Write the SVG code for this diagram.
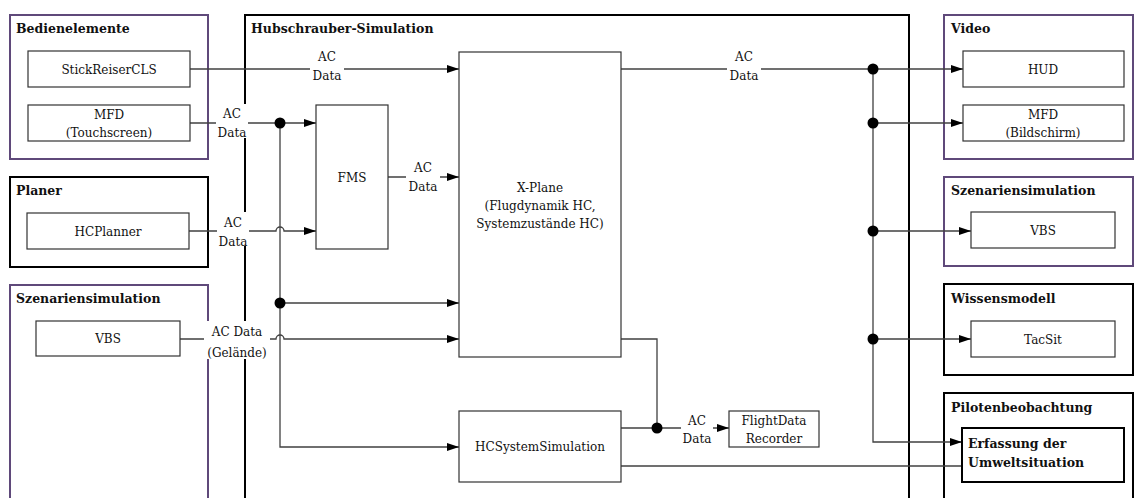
<svg xmlns="http://www.w3.org/2000/svg" width="1134" height="498" viewBox="0 0 1134 498">
<style>
text{font-family:"DejaVu Serif","Liberation Serif",serif;font-size:12px;fill:#111}
.t{font-weight:bold;font-size:12.5px}
.c{text-anchor:middle}
.purple{fill:#fff;stroke:#5f497a;stroke-width:2}
.black{fill:#fff;stroke:#000;stroke-width:2}
.box{fill:#fff;stroke:#333;stroke-width:1.2}
.bbox{fill:#fff;stroke:#000;stroke-width:2}
.ln{fill:none;stroke:#404040;stroke-width:1.3}
.dot{fill:#000}
.lbl{fill:#fff;stroke:none}
</style>
<defs>
<marker id="ah" markerWidth="12" markerHeight="8" refX="12" refY="4" orient="auto" markerUnits="userSpaceOnUse">
<path d="M0,0 L12,4 L0,8 Z" fill="#000"/>
</marker>
</defs>
<rect width="1134" height="498" fill="#fff"/>

<g id="grp-hubschrauber">
<rect class="black" x="245" y="15" width="664" height="500"/>
<text class="t" x="251" y="33">Hubschrauber-Simulation</text>
</g>
<g id="grp-bedienelemente">
<rect class="purple" x="10" y="15" width="198" height="144"/>
<text class="t" x="16" y="33">Bedienelemente</text>
</g>
<g id="grp-planer">
<rect class="black" x="10" y="177" width="198" height="90"/>
<text class="t" x="16" y="195">Planer</text>
</g>
<g id="grp-szen-left">
<rect class="purple" x="10" y="285" width="198" height="230"/>
<text class="t" x="16" y="303">Szenariensimulation</text>
</g>
<g id="grp-video">
<rect class="purple" x="944" y="15" width="189" height="144"/>
<text class="t" x="951" y="33">Video</text>
</g>
<g id="grp-szen-right">
<rect class="purple" x="944" y="177" width="189" height="89"/>
<text class="t" x="951" y="195">Szenariensimulation</text>
</g>
<g id="grp-wissensmodell">
<rect class="black" x="944" y="284" width="189" height="91"/>
<text class="t" x="951" y="303">Wissensmodell</text>
</g>
<g id="grp-pilotenbeobachtung">
<rect class="black" x="944" y="393" width="189" height="120"/>
<text class="t" x="951" y="412">Pilotenbeobachtung</text>
</g>

<g id="connectors">
<path class="ln" d="M190,69 H459" marker-end="url(#ah)"/>
<path class="ln" d="M190,123 H316" marker-end="url(#ah)"/>
<path class="ln" d="M189,231 H276 a4,4 0 0 1 8,0 H316" marker-end="url(#ah)"/>
<path class="ln" d="M280,123 V447 H459" marker-end="url(#ah)"/>
<path class="ln" d="M280,303 H459" marker-end="url(#ah)"/>
<path class="ln" d="M180,339 H276 a4,4 0 0 1 8,0 H459" marker-end="url(#ah)"/>
<path class="ln" d="M388,177 H459" marker-end="url(#ah)"/>
<path class="ln" d="M621,69 H963" marker-end="url(#ah)"/>
<path class="ln" d="M873,69 V442 H962" marker-end="url(#ah)"/>
<path class="ln" d="M873,123 H963" marker-end="url(#ah)"/>
<path class="ln" d="M873,231 H971" marker-end="url(#ah)"/>
<path class="ln" d="M873,339 H971" marker-end="url(#ah)"/>
<path class="ln" d="M621,339 H657 V428"/>
<path class="ln" d="M621,428 H729" marker-end="url(#ah)"/>
<path class="ln" d="M621,466 H962"/>
<circle class="dot" cx="280" cy="123" r="5.5"/>
<circle class="dot" cx="280" cy="303" r="5.5"/>
<circle class="dot" cx="873" cy="69" r="5.5"/>
<circle class="dot" cx="873" cy="123" r="5.5"/>
<circle class="dot" cx="873" cy="231" r="5.5"/>
<circle class="dot" cx="873" cy="339" r="5.5"/>
<circle class="dot" cx="657" cy="428" r="5.5"/>
<rect class="lbl" x="310" y="47" width="34" height="36"/>
<text class="c" x="327" y="61">AC</text><text class="c" x="327" y="80">Data</text>
<rect class="lbl" x="727" y="47" width="34" height="36"/>
<text class="c" x="744" y="61">AC</text><text class="c" x="744" y="80">Data</text>
<rect class="lbl" x="406" y="160" width="34" height="34"/>
<text class="c" x="423" y="172">AC</text><text class="c" x="423" y="191">Data</text>
<rect class="lbl" x="216" y="104" width="32" height="34"/>
<text class="c" x="232" y="118">AC</text><text class="c" x="232" y="137">Data</text>
<rect class="lbl" x="217" y="212" width="32" height="34"/>
<text class="c" x="233" y="227">AC</text><text class="c" x="233" y="246">Data</text>
<rect class="lbl" x="204" y="321" width="66" height="38"/>
<text class="c" x="237" y="336">AC Data</text><text class="c" x="237" y="357">(Gelände)</text>
<rect class="lbl" x="681" y="410" width="32" height="34"/>
<text class="c" x="697" y="425">AC</text><text class="c" x="697" y="443">Data</text>
</g>

<g id="stickreiser"><rect class="box" x="28" y="51" width="162" height="36"/><text class="c" x="109" y="74">StickReiserCLS</text></g>
<g id="mfd-touch"><rect class="box" x="28" y="105" width="162" height="36"/><text class="c" x="109" y="119">MFD</text><text class="c" x="109" y="137">(Touchscreen)</text></g>
<g id="hcplanner"><rect class="box" x="27" y="213" width="162" height="36"/><text class="c" x="108" y="236">HCPlanner</text></g>
<g id="vbs-left"><rect class="box" x="36" y="321" width="144" height="35"/><text class="c" x="108" y="343">VBS</text></g>
<g id="fms"><rect class="box" x="316" y="105" width="72" height="144"/><text class="c" x="352" y="182">FMS</text></g>
<g id="xplane"><rect class="box" x="459" y="52" width="162" height="305"/><text class="c" x="540" y="192">X-Plane</text><text class="c" x="540" y="210">(Flugdynamik HC,</text><text class="c" x="540" y="228">Systemzustände HC)</text></g>
<g id="hcsys"><rect class="box" x="459" y="411" width="162" height="71"/><text class="c" x="540" y="451">HCSystemSimulation</text></g>
<g id="fdr"><rect class="box" x="729" y="411" width="90" height="36"/><text class="c" x="774" y="425">FlightData</text><text class="c" x="774" y="443">Recorder</text></g>
<g id="hud"><rect class="box" x="963" y="51" width="161" height="36"/><text class="c" x="1043" y="74">HUD</text></g>
<g id="mfd-bild"><rect class="box" x="963" y="105" width="161" height="36"/><text class="c" x="1043" y="119">MFD</text><text class="c" x="1043" y="137">(Bildschirm)</text></g>
<g id="vbs-right"><rect class="box" x="971" y="212" width="144" height="36"/><text class="c" x="1043" y="235">VBS</text></g>
<g id="tacsit"><rect class="box" x="971" y="321" width="144" height="36"/><text class="c" x="1043" y="344">TacSit</text></g>
<g id="erfassung"><rect class="bbox" x="962" y="428" width="162" height="54"/><text class="t" x="968" y="448">Erfassung der</text><text class="t" x="968" y="467">Umweltsituation</text></g>
</svg>
